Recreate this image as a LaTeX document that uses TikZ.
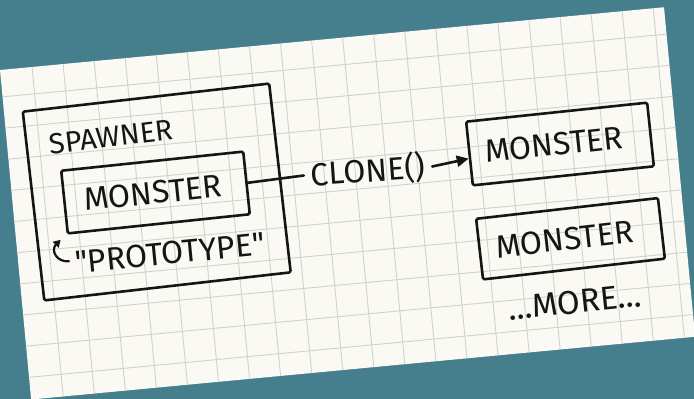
\documentclass[tikz,border=0pt]{standalone}
\usepackage{fontspec}
\newfontfamily\handfont{Fira Sans}
\usetikzlibrary{arrows.meta,calc}
\definecolor{teal0}{HTML}{457F8E}
\definecolor{paper}{HTML}{FAF9F4}
\definecolor{gridc}{HTML}{D2D2CC}
\definecolor{ink}{HTML}{151515}
\begin{document}
\begin{tikzpicture}[x=1pt,y=-1pt,
  sketch/.style={draw=ink,line width=2.6pt,line join=round,line cap=round},
  box/.style={sketch,rectangle,inner sep=0pt,rounded corners=1.5pt,text=ink,font=\handfont\fontsize{32}{32}\selectfont},
  hand/.style={text=ink,inner sep=0pt,font=\handfont\fontsize{#1}{#1}\selectfont},
  gridline/.style={draw=gridc,line width=0.9pt}
]
\useasboundingbox (0,0) rectangle (694,399);
\fill[teal0] (0,0) rectangle (694,399);
% paper sheet
\begin{scope}[shift={(0,70)},rotate=5.4]
  \fill[paper] (0,0) rectangle (667,331);
  \foreach \k in {1,...,21}{\draw[gridline] (1+31.2*\k,0) -- (1+31.2*\k,331);}
  \foreach \k in {0,...,9}{\draw[gridline] (0,27+31.3*\k) -- (667,27+31.3*\k);}
\end{scope}
% boxes
\node[box,rotate=6.5,minimum width=248,minimum height=190] (spawner) at (156.75,192) {};
\node[box,rotate=6,minimum width=183,minimum height=63] (proto) at (155.5,192.5) {\hspace*{-5pt}\raisebox{-3pt}{MONSTER}};
\node[box,rotate=6,minimum width=182,minimum height=64] (m1) at (560,144) {\hspace*{-12pt}\raisebox{-4pt}{MONSTER}};
\node[box,rotate=6.5,minimum width=183,minimum height=61] (m2) at (570.5,238.75) {\hspace*{-12pt}MONSTER};
% texts
\node[hand=29,rotate=7] (spawnerlbl) at (111,137) {SPAWNER};
\node[hand=32,rotate=5.6] (protolbl) at (170,253) {"PROTOTYPE"};
\node[hand=32,rotate=4,inner xsep=7pt] (clone) at (368,171) {CLONE()};
\node[hand=33,rotate=6] (more) at (575,302) {...MORE...};
% connectors
\draw[sketch] (proto.east) -- (clone.west);
\draw[sketch,-{Triangle[length=12pt,width=11pt]}] (clone.east) -- ($(m1.west)!0.15!(m1.south west)$);
\draw[sketch,line width=2.2pt,-{Triangle[length=7pt,width=8pt]}] ([shift={(-6,-1)}]protolbl.west) .. controls +(-13,1) and +(-10,10) .. ([shift={(-6,5)}]proto.south west);
\end{tikzpicture}
\end{document}
